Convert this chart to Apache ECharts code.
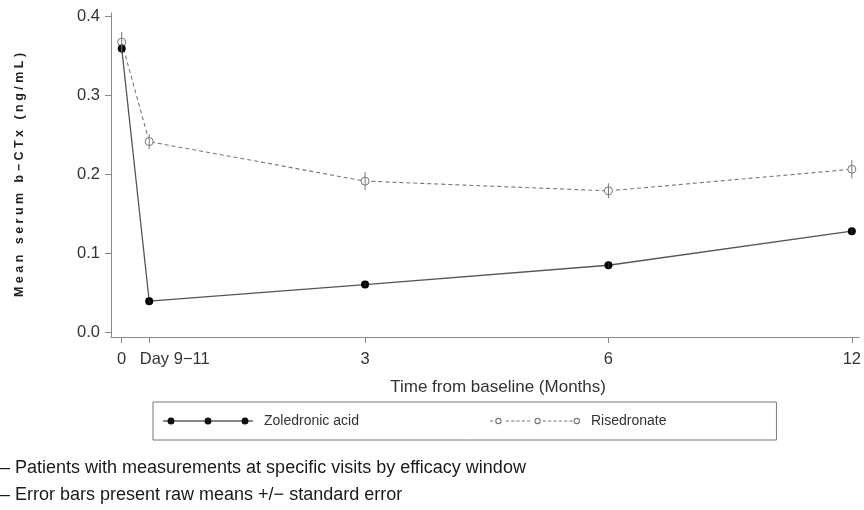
<!DOCTYPE html>
<html>
<head>
<meta charset="utf-8">
<script src="https://cdn.jsdelivr.net/npm/echarts@6/dist/echarts.min.js"></script>
<style>
html,body{margin:0;padding:0;background:#fff;}
#chart{width:864px;height:510px;}
</style>
</head>
<body>
<div id="chart"></div>
<script>
// ---- data ----
var xTickLabels = ['0', 'Day 9\u221211', '3', '6', '12'];
var xPositions = [0, 0.113, 1, 2, 3];          // ordinal positions of the visits on the time axis
var zoledronicMean = [0.359, 0.039, 0.060, 0.0845, 0.1276];
var zoledronicSE   = [0.006, 0.003, 0.003, 0.003, 0.003];
var risedronateMean = [0.367, 0.241, 0.191, 0.1787, 0.206];
var risedronateSE   = [0.0127, 0.0095, 0.0115, 0.0095, 0.0115];
var yTicks = [0, 0.1, 0.2, 0.3, 0.4];
var seriesNames = ['Zoledronic acid', 'Risedronate'];
var footnotes = ['\u2013 Patients with measurements at specific visits by efficacy window',
                 '\u2013 Error bars present raw means +/\u2212 standard error'];

// ---- build ----
function pairs(xs, ys) { return xs.map(function (x, i) { return [x, ys[i]]; }); }
function errData(xs, m, se) { return xs.map(function (x, i) { return [x, m[i] - se[i], m[i] + se[i]]; }); }

function errRender(color) {
  return function (params, api) {
    var x = api.value(0);
    var lo = api.coord([x, api.value(1)]);
    var hi = api.coord([x, api.value(2)]);
    return {
      type: 'line',
      shape: { x1: lo[0], y1: lo[1], x2: hi[0], y2: hi[1] },
      style: { stroke: color, lineWidth: 1 }
    };
  };
}

// legend icon paths
function solidIcon() {
  var p = 'M0 3.4 L90 3.4 L90 4.6 L0 4.6 Z';
  [8, 45, 82].forEach(function (cx) {
    var r = 3.5;
    p += ' M' + (cx - r) + ' 4 A' + r + ' ' + r + ' 0 1 1 ' + (cx + r) + ' 4 A' + r + ' ' + r + ' 0 1 1 ' + (cx - r) + ' 4 Z';
  });
  return 'path://' + p;
}
function dashIcon() {
  var rings = [8, 45, 82], r = 3, ri = 2, p = '';
  for (var x = 0; x < 90; x += 5) {
    var x2 = Math.min(x + 3, 90);
    var hit = rings.some(function (c) { return x2 > c - r - 0.5 && x < c + r + 0.5; });
    if (!hit) p += ' M' + x + ' 3.5 L' + x2 + ' 3.5 L' + x2 + ' 4.5 L' + x + ' 4.5 Z';
  }
  rings.forEach(function (cx) {
    p += ' M' + (cx - r) + ' 4 A' + r + ' ' + r + ' 0 1 1 ' + (cx + r) + ' 4 A' + r + ' ' + r + ' 0 1 1 ' + (cx - r) + ' 4 Z';
    p += ' M' + (cx - ri) + ' 4 A' + ri + ' ' + ri + ' 0 1 0 ' + (cx + ri) + ' 4 A' + ri + ' ' + ri + ' 0 1 0 ' + (cx - ri) + ' 4 Z';
  });
  return 'path://' + p + ' M0 0.5 L0.01 0.5 L0.01 7.5 L0 7.5 Z';
}

var FONT = '"Liberation Sans", Arial, Helvetica, sans-serif';
var spacedTitle = 'Mean serum b\u2212CTx (ng/mL)'.split('').join(' ');

var chart = echarts.init(document.getElementById('chart'), null, { renderer: 'canvas' });
chart.setOption({
  animation: false,
  backgroundColor: '#fff',
  textStyle: { fontFamily: FONT },
  grid: { left: 111, right: 2, top: 13, bottom: 173, containLabel: false },
  title: {
    text: footnotes.join('\n'),
    left: 0, top: 455,
    padding: 0,
    textStyle: { fontFamily: FONT, fontSize: 18, fontWeight: 'normal', color: '#1a1a1a', lineHeight: 27 }
  },
  legend: {
    left: 153, top: 402,
    orient: 'horizontal',
    padding: [12, 110, 12, 10],
    itemGap: 131,
    itemWidth: 90, itemHeight: 8,
    borderColor: '#777', borderWidth: 1,
    textStyle: { fontFamily: FONT, fontSize: 14, color: '#333', padding: [0, 0, 0, 6] },
    data: [
      { name: seriesNames[0], icon: solidIcon(), itemStyle: { color: '#111', borderWidth: 0 } },
      { name: seriesNames[1], icon: dashIcon(), itemStyle: { color: '#777', borderWidth: 0 } }
    ]
  },
  xAxis: {
    type: 'value',
    min: -0.044, max: 3.03,
    name: 'Time from baseline (Months)',
    nameLocation: 'middle',
    nameGap: 42,
    nameTextStyle: { fontFamily: FONT, fontSize: 17, color: '#333', padding: [0, 0, 0, 26] },
    axisLine: { onZero: false, lineStyle: { color: '#888', width: 1 } },
    axisTick: { show: true, length: 6, customValues: xPositions, lineStyle: { color: '#888' } },
    axisLabel: {
      customValues: xPositions,
      margin: 14,
      fontFamily: FONT, fontSize: 16.5, color: '#333',
      formatter: function (v) {
        var i = xPositions.indexOf(v);
        if (i === 1) return '{d|' + xTickLabels[i] + '}';
        return i >= 0 ? xTickLabels[i] : '';
      },
      rich: { d: { fontFamily: FONT, fontSize: 16.5, color: '#333', padding: [0, 0, 0, 51] } }
    },
    splitLine: { show: false }
  },
  yAxis: {
    type: 'value',
    min: -0.0063, max: 0.4038,
    name: spacedTitle,
    nameLocation: 'middle',
    nameGap: 85,
    nameRotate: 90,
    nameTextStyle: { fontFamily: FONT, fontSize: 12.5, fontWeight: 'bold', color: '#222' },
    axisLine: { show: true, onZero: false, lineStyle: { color: '#888', width: 1 } },
    axisTick: { show: true, length: 6, customValues: yTicks, lineStyle: { color: '#888' } },
    axisLabel: {
      customValues: yTicks,
      margin: 11,
      fontFamily: FONT, fontSize: 16.5, color: '#333',
      formatter: function (v) { return v.toFixed(1); }
    },
    splitLine: { show: false }
  },
  series: [
    {
      name: seriesNames[0],
      type: 'line',
      data: pairs(xPositions, zoledronicMean),
      symbol: 'circle', symbolSize: 8,
      itemStyle: { color: '#000' },
      lineStyle: { color: '#555', width: 1.3, type: 'solid' },
      z: 3
    },
    {
      name: seriesNames[1],
      type: 'line',
      data: pairs(xPositions, risedronateMean),
      symbol: 'circle', symbolSize: 8,
      itemStyle: { color: '#fff', borderColor: '#777', borderWidth: 1 },
      lineStyle: { color: '#777', width: 1.1, type: [4, 3] },
      z: 2
    },
    {
      name: seriesNames[0] + ' SE',
      type: 'custom',
      renderItem: errRender('#333'),
      data: errData(xPositions, zoledronicMean, zoledronicSE),
      encode: { x: 0, y: [1, 2] },
      z: 4
    },
    {
      name: seriesNames[1] + ' SE',
      type: 'custom',
      renderItem: errRender('#777'),
      data: errData(xPositions, risedronateMean, risedronateSE),
      encode: { x: 0, y: [1, 2] },
      z: 4
    }
  ]
});
</script>
</body>
</html>
